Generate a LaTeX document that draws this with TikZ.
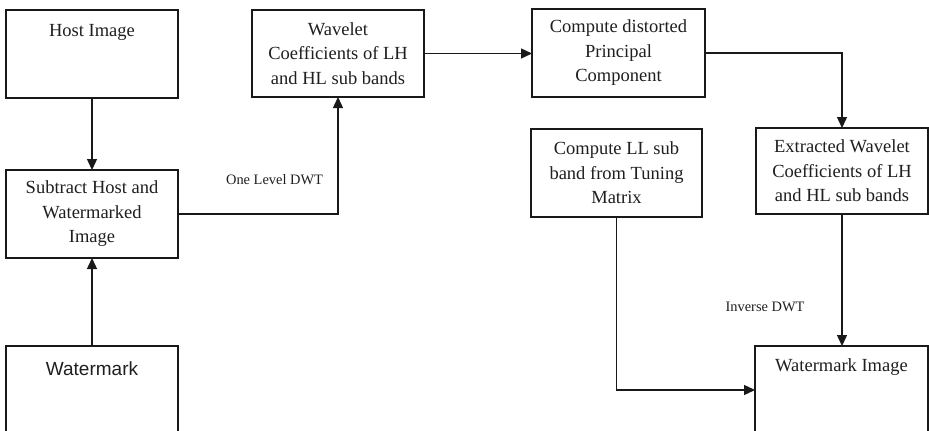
\documentclass[tikz,border=0pt]{standalone}
\usepackage{fontspec}
\setmainfont{Liberation Serif}
\newfontfamily\arialfont{Liberation Sans}
\usetikzlibrary{arrows.meta,calc}
\begin{document}
\begin{tikzpicture}[x=1pt,y=-1pt,
  box/.style={draw=black!90,line width=1.4pt,rectangle,minimum width=172pt,minimum height=88pt,inner sep=0pt,outer sep=0pt,
    align=center,font=\fontsize{18.5}{24.5}\selectfont,text=black!88},
  txt/.style={inner sep=0pt,align=center,font=\fontsize{18.5}{24.5}\selectfont,text=black!88},
  lab/.style={inner sep=0pt,font=\fontsize{14.4}{17}\selectfont,text=black!88},
  conn/.style={draw=black!90,line width=1.4pt},
  arr/.style={conn,-{Triangle[length=11pt,width=10pt]}}]
\fill[white] (0,0) rectangle (929,431);
\useasboundingbox (0,0) rectangle (929,431);
\clip (0,0) rectangle (929,431);
% boxes
\node[box] (host) at (92,54) {};
\node[txt,anchor=base] (hostT) at (92,36) {Host Image};
\node[box] (sub) at (92,214) {Subtract Host and\\Watermarked\\Image};
\node[box] (wm) at (92,390) {};
\node[txt,anchor=base,font=\arialfont\fontsize{19}{23}\selectfont] (wmT) at (92,375) {Watermark};
\node[box,minimum height=87pt] (wav) at (338,53.5) {Wavelet\\Coefficients of LH\\and HL sub bands};
\node[box,minimum height=88pt,minimum width=173pt] (comp) at (618.5,53) {Compute distorted\\Principal\\Component};
\node[box,minimum height=86pt] (ext) at (842,171) {Extracted Wavelet\\Coefficients of LH\\and HL sub bands};
\node[box,minimum width=171pt] (ll) at (616.5,173) {Compute LL sub\\band from Tuning\\Matrix};
\node[box,minimum width=173pt] (wmi) at (841.5,390) {};
\node[txt,anchor=base] (wmiT) at (841.5,371) {Watermark Image};
% labels
\node[lab] (l1) at (274.5,180) {One Level DWT};
\node[lab] (l2) at (765,307) {Inverse DWT};
% connectors
\draw[arr] (host.south) -- (sub.north);
\draw[arr] (wm.north) -- (sub.south);
\draw[arr] (sub.east) -| (wav.south);
\draw[arr] (wav.east) -- (wav.east -| comp.west);
\draw[arr] (comp.east) -| (ext.north);
\draw[arr] (ext.south) -- (ext.south |- wmi.north);
\draw[arr] (ll.south) |- (wmi.west);
\end{tikzpicture}
\end{document}
